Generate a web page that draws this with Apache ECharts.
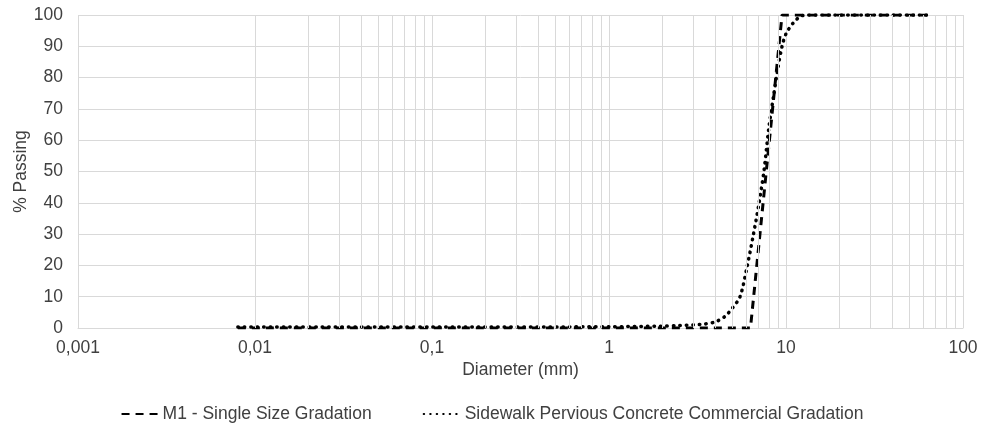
<!DOCTYPE html>
<html>
<head>
<meta charset="utf-8">
<script src="https://cdn.jsdelivr.net/npm/echarts@6/dist/echarts.min.js"></script>
<style>
  html, body { margin: 0; padding: 0; background: #fff; }
  #chart { width: 984px; height: 430px; }
</style>
</head>
<body>
<div id="chart"></div>
<script>
const chart = echarts.init(document.getElementById("chart"));

// M1 - Single Size Gradation
const m1Diameter = [0.008, 4.75, 6.3, 9.5, 12.5, 63];
const m1Passing = [0, 0, 0, 100, 100, 100];

// Sidewalk Pervious Concrete Commercial Gradation
const swDiameter = [0.008, 0.1, 1, 2, 2.5, 3, 3.5, 4, 4.5, 5, 5.5, 6, 6.5, 7, 7.5, 8, 8.5, 9, 9.5, 10, 11, 12, 13, 20, 40, 63];
const swPassing = [0.3, 0.3, 0.4, 0.6, 0.8, 1.0, 1.3, 2.0, 3.6, 6.5, 10, 19, 29, 39, 50, 64, 74, 83, 90, 94, 97.5, 99.5, 100, 100, 100, 100];

const yTicks = [0, 10, 20, 30, 40, 50, 60, 70, 80, 90, 100];
const xDecades = [0.001, 0.01, 0.1, 1, 10, 100];

const textColor = "#404040";
const gridColor = "#d9d9d9";
const font = "Liberation Sans, Arial, sans-serif";
const fs = 17.5;

// log minor grid lines (2..9 within each decade)
const minorLines = [];
for (let i = 0; i < xDecades.length - 1; i++) {
  for (let k = 2; k <= 9; k++) minorLines.push({ xAxis: +(xDecades[i] * k).toPrecision(6) });
}

function pairs(xs, ys) {
  return xs.map((x, i) => [x, ys[i]]);
}

chart.setOption({
  animation: false,
  textStyle: { fontFamily: font },
  grid: { left: 78, right: 21, top: 15, bottom: 102, outerBoundsMode: "none", containLabel: false },
  legend: {
    data: ["M1 - Single Size Gradation", "Sidewalk Pervious Concrete Commercial Gradation"],
    top: 400,
    left: "center",
    itemWidth: 36,
    itemHeight: 12,
    itemGap: 51,
    itemStyle: { opacity: 0 },
    textStyle: { color: textColor, fontSize: fs, fontFamily: font },
  },
  xAxis: {
    type: "log",
    logBase: 10,
    min: xDecades[0],
    max: xDecades[xDecades.length - 1],
    name: "Diameter (mm)",
    nameLocation: "middle",
    nameGap: 33,
    nameMoveOverlap: false,
    nameTextStyle: { color: textColor, fontSize: fs },
    axisLine: { show: true, lineStyle: { color: gridColor } },
    axisTick: { show: false },
    axisLabel: {
      color: textColor,
      fontSize: fs,
      margin: 11,
      formatter: (v) => String(+(+v).toPrecision(6)).replace(".", ","),
    },
    splitLine: { show: true, lineStyle: { color: gridColor } },
  },
  yAxis: {
    type: "value",
    min: yTicks[0],
    max: yTicks[yTicks.length - 1],
    interval: 10,
    name: "% Passing",
    nameLocation: "middle",
    nameGap: 48,
    nameMoveOverlap: false,
    nameTextStyle: { color: textColor, fontSize: fs },
    axisLine: { show: false },
    axisTick: { show: false },
    axisLabel: { color: textColor, fontSize: fs, margin: 15 },
    splitLine: { show: true, lineStyle: { color: gridColor } },
  },
  series: [
    {
      name: "minor",
      type: "line",
      data: [],
      z: 1,
      silent: true,
      markLine: {
        silent: true,
        symbol: ["none", "none"],
        label: { show: false },
        lineStyle: { color: gridColor, type: "solid", width: 1 },
        emphasis: { disabled: true },
        data: minorLines,
      },
    },
    {
      name: "M1 - Single Size Gradation",
      type: "line",
      z: 3,
      showSymbol: false,
      symbol: "none",
      data: pairs(m1Diameter, m1Passing),
      lineStyle: { color: "#000", width: 3, type: [8, 6] },
      itemStyle: { color: "#000" },
    },
    {
      name: "Sidewalk Pervious Concrete Commercial Gradation",
      type: "line",
      z: 3,
      showSymbol: false,
      symbol: "none",
      smooth: 0.3,
      data: pairs(swDiameter, swPassing),
      lineStyle: { color: "#000", width: 3.5, type: [0.5, 6], cap: "round" },
      itemStyle: { color: "#000" },
    },
  ],
});
</script>
</body>
</html>
